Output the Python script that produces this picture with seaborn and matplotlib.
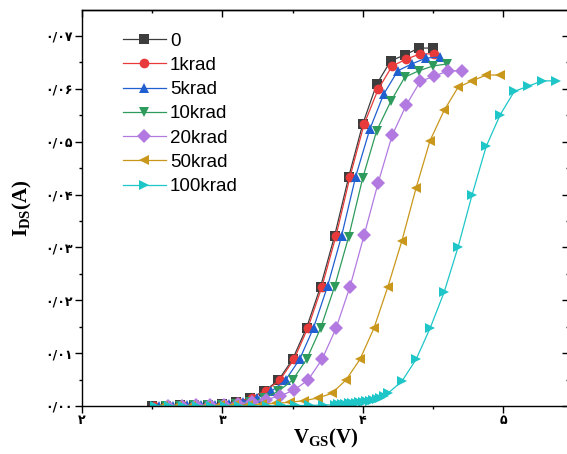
import matplotlib
matplotlib.use("Agg")
import matplotlib.pyplot as plt
import pandas as pd
import seaborn as sns
from matplotlib.ticker import MultipleLocator

# ---------------- data ----------------
dose_names = ["0", "1krad", "5krad", "10krad", "20krad", "50krad", "100krad"]

vgs_0 = [2.5, 2.6, 2.7, 2.8, 2.9, 3.0, 3.1, 3.2, 3.3, 3.4, 3.5, 3.6, 3.7, 3.8, 3.9, 4.0, 4.1, 4.2, 4.3, 4.4, 4.5]
ids_0 = [0.0000, 0.0000, 0.0001, 0.0001, 0.0002, 0.0004, 0.0008, 0.0015, 0.0028, 0.0049, 0.0088,
         0.0148, 0.0226, 0.0322, 0.0433, 0.0533, 0.0609, 0.0653, 0.0664, 0.0677, 0.0677]

vgs_1k = [2.51, 2.61, 2.71, 2.81, 2.91, 3.01, 3.11, 3.21, 3.31, 3.41, 3.51, 3.61, 3.71, 3.81, 3.91, 4.01, 4.11, 4.21, 4.31, 4.41, 4.51]
ids_1k = [0.0000, 0.0000, 0.0001, 0.0001, 0.0002, 0.0004, 0.0008, 0.0016, 0.0029, 0.0049, 0.0088,
          0.0148, 0.0226, 0.0322, 0.0434, 0.0533, 0.0599, 0.0643, 0.0656, 0.0666, 0.0666]

vgs_5k = [2.55, 2.65, 2.75, 2.85, 2.95, 3.05, 3.15, 3.25, 3.35, 3.45, 3.55, 3.65, 3.75, 3.85, 3.95, 4.05, 4.15, 4.25, 4.35, 4.45, 4.55]
ids_5k = [0.0000, 0.0000, 0.0001, 0.0001, 0.0002, 0.0004, 0.0008, 0.0015, 0.0028, 0.0049, 0.0088,
          0.0148, 0.0227, 0.0322, 0.0434, 0.0523, 0.0590, 0.0634, 0.0647, 0.0658, 0.0660]

vgs_10k = [2.6, 2.7, 2.8, 2.9, 3.0, 3.1, 3.2, 3.3, 3.4, 3.5, 3.6, 3.7, 3.8, 3.9, 4.0, 4.1, 4.2, 4.3, 4.4, 4.5, 4.6]
ids_10k = [0.0000, 0.0000, 0.0001, 0.0001, 0.0002, 0.0004, 0.0008, 0.0015, 0.0028, 0.0049, 0.0088,
           0.0147, 0.0226, 0.0320, 0.0431, 0.0521, 0.0576, 0.0622, 0.0634, 0.0643, 0.0647]

vgs_20k = [2.61, 2.71, 2.81, 2.91, 3.01, 3.11, 3.21, 3.31, 3.41, 3.51, 3.61, 3.71, 3.81, 3.91, 4.01,
           4.11, 4.21, 4.31, 4.41, 4.51, 4.61, 4.71]
ids_20k = [0.0000, 0.0000, 0.0001, 0.0001, 0.0002, 0.0004, 0.0007, 0.0012, 0.0019, 0.0030, 0.0049,
           0.0088, 0.0147, 0.0226, 0.0323, 0.0422, 0.0512, 0.0569, 0.0614, 0.0624, 0.0634, 0.0634]

vgs_50k = [2.58, 2.68, 2.78, 2.88, 2.98, 3.08, 3.18, 3.28, 3.38, 3.48, 3.58, 3.68, 3.78, 3.88, 3.98,
           4.08, 4.18, 4.28, 4.38, 4.48, 4.58, 4.68, 4.78, 4.88, 4.98]
ids_50k = [0.0000, 0.0000, 0.0000, 0.0000, 0.0001, 0.0001, 0.0002, 0.0003, 0.0005, 0.0007, 0.0010,
           0.0015, 0.0024, 0.0049, 0.0088, 0.0147, 0.0226, 0.0313, 0.0412, 0.0502, 0.0559, 0.0603,
           0.0615, 0.0626, 0.0626]

vgs_100k = [2.52, 2.62, 2.72, 2.82, 2.92, 3.02, 3.12, 3.22, 3.32, 3.42, 3.52, 3.62, 3.72,
            3.80, 3.825, 3.85, 3.875, 3.90, 3.925, 3.95, 3.975, 4.00, 4.025, 4.05, 4.075, 4.10, 4.125, 4.15,
            4.18, 4.28, 4.38, 4.48, 4.58, 4.68, 4.78, 4.88, 4.98, 5.08, 5.18, 5.28, 5.38]
ids_100k = [0.0000, 0.0000, 0.0000, 0.0000, 0.0000, 0.0000, 0.0000, 0.0000, 0.0000, 0.0001, 0.0001, 0.0001, 0.0002,
            0.0002, 0.0003, 0.0003, 0.0004, 0.0005, 0.0005, 0.0006, 0.0007, 0.0008, 0.0009, 0.0010, 0.0012, 0.0014, 0.0016, 0.0019,
            0.0024, 0.0047, 0.0088, 0.0147, 0.0215, 0.0301, 0.0400, 0.0491, 0.0551, 0.0595, 0.0605, 0.0615, 0.0615]

x_ticks = [2, 3, 4, 5]
x_tick_labels = ["۲", "۳", "۴", "۵"]
y_ticks = [0.00, 0.01, 0.02, 0.03, 0.04, 0.05, 0.06, 0.07]
y_tick_labels = ["۰/۰۰", "۰/۰۱", "۰/۰۲", "۰/۰۳", "۰/۰۴", "۰/۰۵", "۰/۰۶", "۰/۰۷"]

colors = {"0": "#3d3d3d", "1krad": "#e83a3a", "5krad": "#1f5fd0", "10krad": "#2e9b5c",
          "20krad": "#b27ae0", "50krad": "#c9971b", "100krad": "#1fc6c8"}
markers = {"0": "s", "1krad": "o", "5krad": "^", "10krad": "v",
           "20krad": "D", "50krad": "<", "100krad": ">"}

xs = [vgs_0, vgs_1k, vgs_5k, vgs_10k, vgs_20k, vgs_50k, vgs_100k]
ys = [ids_0, ids_1k, ids_5k, ids_10k, ids_20k, ids_50k, ids_100k]
frames = []
for name, xv, yv in zip(dose_names, xs, ys):
    frames.append(pd.DataFrame({"VGS": xv, "IDS": yv, "dose": name}))
df = pd.concat(frames, ignore_index=True)

# ---------------- figure ----------------
plt.rcParams["mathtext.fontset"] = "custom"
plt.rcParams["mathtext.rm"] = "Liberation Serif"
plt.rcParams["mathtext.bf"] = "Liberation Serif:bold"

fig = plt.figure(figsize=(5.67, 4.54), dpi=100)
ax = fig.add_axes([82 / 567, 48 / 454, 487 / 567, 396 / 454])

sns.lineplot(data=df, x="VGS", y="IDS", hue="dose", style="dose", hue_order=dose_names,
             style_order=dose_names, palette=colors, markers=markers, dashes=False,
             estimator=None, sort=False, linewidth=0.9, markersize=7, markeredgewidth=0,
             legend=False, ax=ax)

ax.set_xlim(2, 5.47)
ax.set_ylim(0, 0.0749)

ax.set_xticks(x_ticks)
ax.set_xticklabels(x_tick_labels, fontfamily="DejaVu Sans", fontweight="bold", fontsize=9)
ax.set_yticks(y_ticks)
ax.set_yticklabels(y_tick_labels, fontfamily="DejaVu Sans", fontweight="bold", fontsize=9)
ax.xaxis.set_minor_locator(MultipleLocator(0.5))
ax.yaxis.set_minor_locator(MultipleLocator(0.005))
ax.tick_params(which="major", direction="out", length=5, width=1, pad=2)
ax.tick_params(axis="x", which="major", pad=0.5)
ax.tick_params(which="minor", direction="out", length=2.5, width=1)

for s in ax.spines.values():
    s.set_linewidth(1.0)
    s.set_color("black")

# top / right inward ticks
secx = ax.secondary_xaxis("top")
secx.set_xticks(x_ticks)
secx.xaxis.set_minor_locator(MultipleLocator(0.5))
secx.tick_params(which="major", direction="in", length=5, width=1, labeltop=False)
secx.tick_params(which="minor", direction="in", length=2.5, width=1)
secy = ax.secondary_yaxis("right")
secy.set_yticks(y_ticks)
secy.yaxis.set_minor_locator(MultipleLocator(0.005))
secy.tick_params(which="major", direction="in", length=5, width=1, labelright=False)
secy.tick_params(which="minor", direction="in", length=2.5, width=1)
secx.spines["top"].set_linewidth(1.0)
secy.spines["right"].set_linewidth(1.0)

ax.set_xlabel(r"$\mathbf{V}_{\mathbf{GS}}\mathbf{(V)}$", fontsize=15, labelpad=0)
ax.set_ylabel(r"$\mathbf{I}_{\mathbf{DS}}\mathbf{(A)}$", fontsize=15, labelpad=8)

handles = ax.lines[:len(dose_names)]
ax.legend(handles, dose_names, loc="upper left", bbox_to_anchor=(0.084, 0.943),
          frameon=False, borderpad=0, borderaxespad=0, handlelength=2.3,
          handletextpad=0.2, labelspacing=0.38, numpoints=1,
          prop={"family": "Liberation Sans", "size": 13.5})

fig.savefig("out.png", dpi=100)
